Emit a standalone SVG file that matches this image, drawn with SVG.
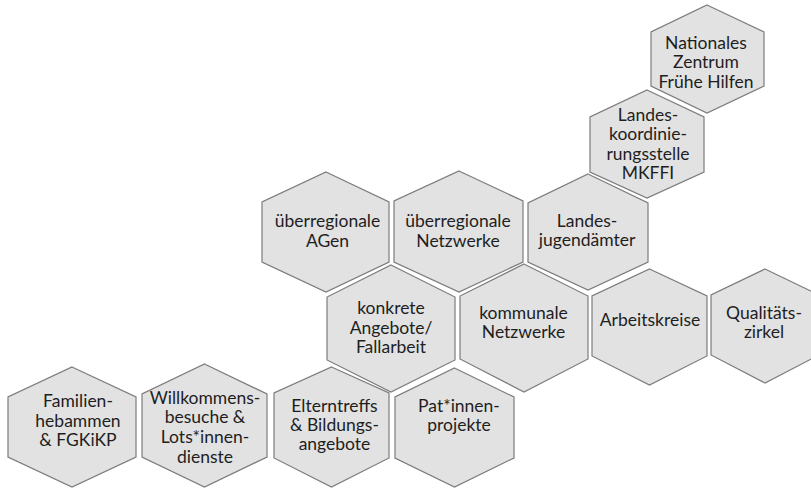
<svg xmlns="http://www.w3.org/2000/svg" width="811" height="488" viewBox="0 0 811 488">
  <style>
    .hex { fill: #e2e2e2; stroke: #7c7c7c; stroke-width: 1.2; stroke-linejoin: miter; }
    .lbl { font-family: Lato, "Open Sans", "DejaVu Sans", sans-serif; font-size: 17.5px; fill: #1e1e1e; text-anchor: middle; }
  </style>
  <rect width="811" height="488" fill="#ffffff"/>

  <g id="nationales-zentrum">
    <polygon class="hex" points="707,5 764,32 764,86 707,113 651,86 651,32"/>
    <text class="lbl"><tspan x="706" y="48.5">Nationales</tspan><tspan x="706" y="68">Zentrum</tspan><tspan x="706" y="87.5">Frühe Hilfen</tspan></text>
  </g>

  <g id="landeskoordinierungsstelle">
    <polygon class="hex" points="647,90 704,117 704,172 647,198 590,172 590,117"/>
    <text class="lbl"><tspan x="648" y="120.5">Landes-</tspan><tspan x="648" y="140">koordinie-</tspan><tspan x="648" y="159.5">rungsstelle</tspan><tspan x="648" y="179">MKFFI</tspan></text>
  </g>

  <g id="ueberregionale-agen">
    <polygon class="hex" points="326,172 389,202 389,262 326,292 262,262 262,202"/>
    <text class="lbl"><tspan x="327.5" y="226.5">überregionale</tspan><tspan x="327.5" y="246.5">AGen</tspan></text>
  </g>

  <g id="ueberregionale-netzwerke">
    <polygon class="hex" points="459,171 523,201 523,262 459,292 394,262 394,201"/>
    <text class="lbl"><tspan x="458" y="226.5">überregionale</tspan><tspan x="458" y="246.5">Netzwerke</tspan></text>
  </g>

  <g id="landesjugendaemter">
    <polygon class="hex" points="588,174 648,203 648,262 588,290 528,262 528,203"/>
    <text class="lbl"><tspan x="587" y="226.5">Landes-</tspan><tspan x="587" y="246">jugendämter</tspan></text>
  </g>

  <g id="konkrete-angebote">
    <polygon class="hex" points="391,265 455,297 455,360 391,392 327,360 327,297"/>
    <text class="lbl"><tspan x="391" y="314">konkrete</tspan><tspan x="391" y="333.5">Angebote/</tspan><tspan x="391" y="353">Fallarbeit</tspan></text>
  </g>

  <g id="kommunale-netzwerke">
    <polygon class="hex" points="524,264 588,296 588,359 524,392 460,359 460,296"/>
    <text class="lbl"><tspan x="523.5" y="318.5">kommunale</tspan><tspan x="523.5" y="338">Netzwerke</tspan></text>
  </g>

  <g id="arbeitskreise">
    <polygon class="hex" points="649.5,269 707,296 707,356 649.5,385 592,356 592,296"/>
    <text class="lbl" x="650" y="325.5">Arbeitskreise</text>
  </g>

  <g id="qualitaetszirkel">
    <polygon class="hex" points="765,269 819,295 819,355 765,383 711,355 711,295"/>
    <text class="lbl"><tspan x="764" y="318.5">Qualitäts-</tspan><tspan x="764" y="338">zirkel</tspan></text>
  </g>

  <g id="familienhebammen">
    <polygon class="hex" points="72,367 136,397 136,457 72,487 8,457 8,397"/>
    <text class="lbl"><tspan x="78" y="406.5">Familien-</tspan><tspan x="78" y="426.5">hebammen</tspan><tspan x="78" y="446">&amp; FGKiKP</tspan></text>
  </g>

  <g id="willkommensbesuche">
    <polygon class="hex" points="204.5,364 267,394 267,457 204.5,487 142,457 142,394"/>
    <text class="lbl"><tspan x="205" y="403.5">Willkommens-</tspan><tspan x="205" y="423">besuche &amp;</tspan><tspan x="205" y="443">Lots*innen-</tspan><tspan x="205" y="462.5">dienste</tspan></text>
  </g>

  <g id="elterntreffs">
    <polygon class="hex" points="331.5,367 389,393 389,458 331.5,487 274,458 274,393"/>
    <text class="lbl"><tspan x="334.5" y="411.5">Elterntreffs</tspan><tspan x="334.5" y="431">&amp; Bildungs-</tspan><tspan x="334.5" y="450">angebote</tspan></text>
  </g>

  <g id="patinnenprojekte">
    <polygon class="hex" points="454.5,368 514,397 514,458 454.5,487 395,458 395,397"/>
    <text class="lbl"><tspan x="459" y="411.5">Pat*innen-</tspan><tspan x="459" y="431">projekte</tspan></text>
  </g>

  <g id="connectors"/>
</svg>
